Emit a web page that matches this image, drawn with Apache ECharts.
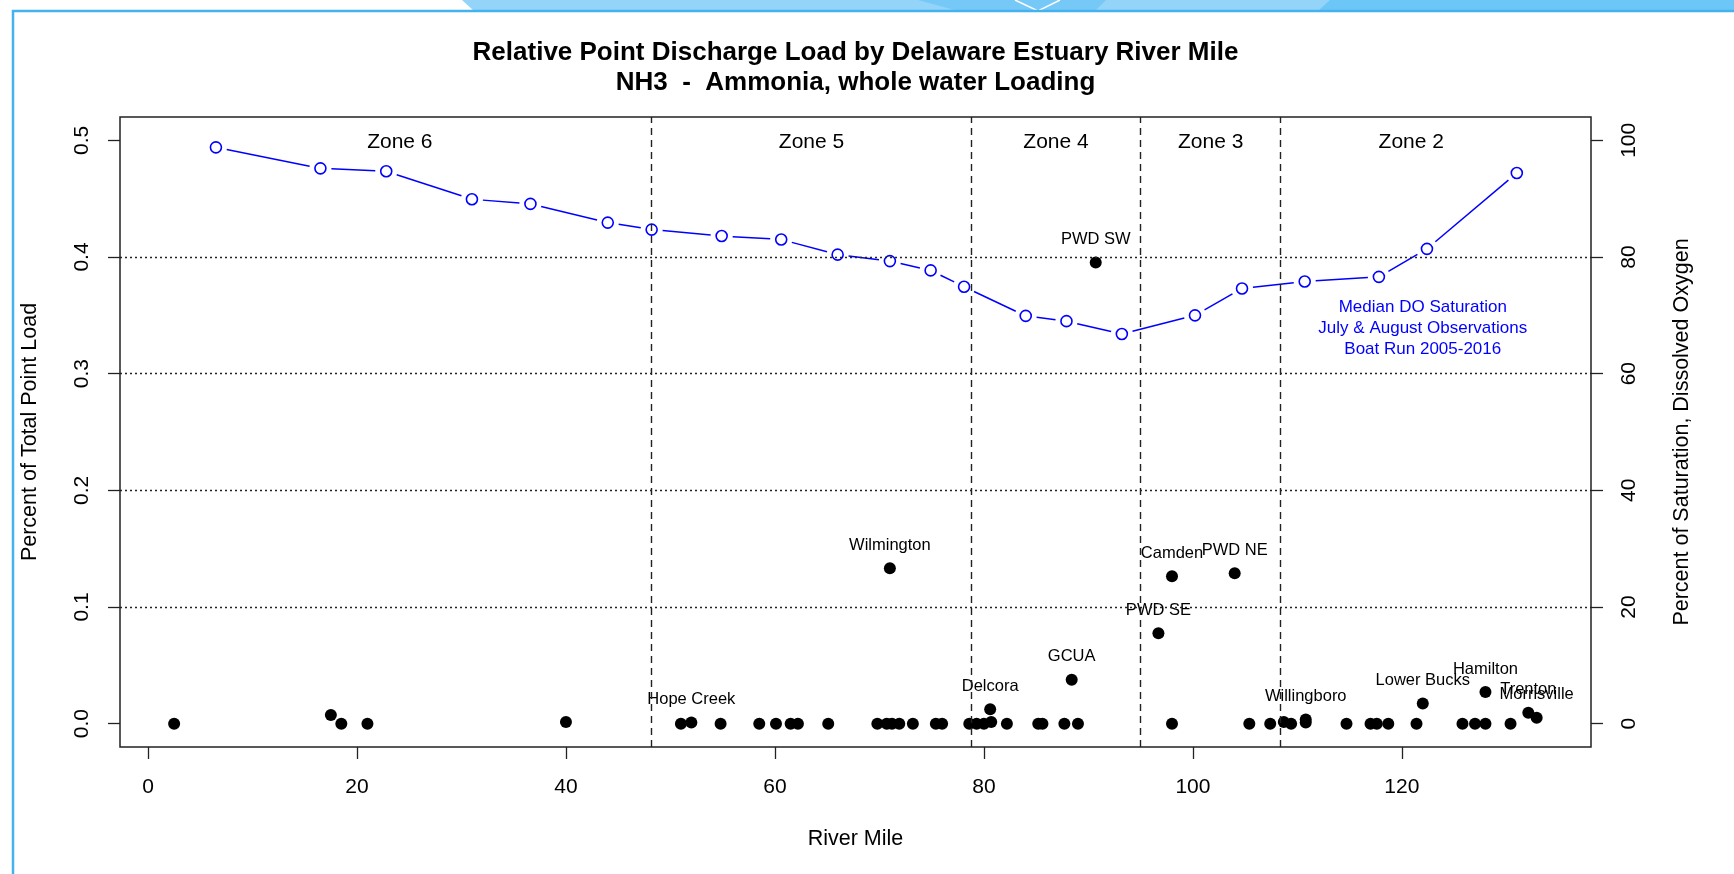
<!DOCTYPE html>
<html><head><meta charset="utf-8">
<script src="https://cdn.jsdelivr.net/npm/echarts@6/dist/echarts.min.js"></script>
<style>html,body{margin:0;padding:0;background:#fff}#chart{width:1734px;height:874px}</style>
</head><body><div id="chart"></div>
<script>
const FONT = '"Liberation Sans", Arial, Helvetica, sans-serif';

// Axis ticks
const xTicks = [0, 20, 40, 60, 80, 100, 120];
const loadTicks = [0, 0.1, 0.2, 0.3, 0.4, 0.5];
const satTicks = [0, 20, 40, 60, 80, 100];
const loadGridLines = [0.1, 0.2, 0.3, 0.4];

// Zones (river mile boundaries)
const zoneEdges = [0, 48.2, 78.8, 95.0, 108.4, 133.4];
const zoneNames = ['Zone 6', 'Zone 5', 'Zone 4', 'Zone 3', 'Zone 2'];

// Point discharges: river mile, relative load, facility name ('' = unlabeled)
const dischargeMiles = [2.5, 17.5, 18.5, 21.0, 40.0, 51.0, 52.0, 54.8, 58.5, 60.1, 61.5, 62.2, 65.1, 69.8, 70.7, 71.0, 71.2, 71.9, 73.2, 75.4, 76.0, 78.6, 79.3, 80.0, 80.6, 80.7, 82.2, 85.2, 85.6, 87.7, 88.4, 89.0, 90.7, 96.7, 98.0, 98.0, 104.0, 105.4, 107.4, 108.7, 109.4, 110.8, 110.8, 114.7, 117.0, 117.6, 118.7, 121.4, 122.0, 125.8, 127.0, 128.0, 128.0, 130.4, 132.1, 132.9];
const dischargeLoads = [0, 0.0074, 0, 0, 0.0014, 0, 0.001, 0, 0, 0, 0, 0, 0, 0, 0, 0.1332, 0, 0, 0, 0, 0, 0, 0, 0, 0.0123, 0.0015, 0, 0, 0, 0, 0.0377, 0, 0.3953, 0.0774, 0.1263, 0, 0.1289, 0, 0, 0.0014, 0, 0.0036, 0.0009, 0, 0, 0, 0, 0, 0.0172, 0, 0, 0, 0.0271, 0, 0.0094, 0.0051];
const dischargeNames = ['', '', '', '', '', '', 'Hope Creek', '', '', '', '', '', '', '', '', 'Wilmington', '', '', '', '', '', '', '', '', 'Delcora', '', '', '', '', '', 'GCUA', '', 'PWD SW', 'PWD SE', 'Camden', '', 'PWD NE', '', '', '', '', 'Willingboro', '', '', '', '', '', '', 'Lower Bucks', '', '', '', 'Hamilton', '', 'Trenton', 'Morrisville'];

// Median DO saturation (boat run)
const doMiles = [6.5, 16.5, 22.8, 31.0, 36.6, 44.0, 48.2, 54.9, 60.6, 66.0, 71.0, 74.9, 78.1, 84.0, 87.9, 93.2, 100.2, 104.7, 110.7, 117.8, 122.4, 131.0];
const doSaturation = [98.8, 95.2, 94.7, 89.9, 89.1, 85.9, 84.7, 83.6, 83.0, 80.4, 79.3, 77.7, 74.9, 69.9, 69.0, 66.8, 70.0, 74.6, 75.8, 76.6, 81.4, 94.4];

const doNoteText = 'Median DO Saturation\nJuly & August Observations\nBoat Run 2005-2016';
const doNoteAt = [122.0, 67.7];

const dischargeData = dischargeMiles.map((m, i) => ({
  value: [m, dischargeLoads[i]],
  name: dischargeNames[i],
  label: { show: dischargeNames[i] !== '' }
}));
const doData = doMiles.map((m, i) => [m, doSaturation[i]]);
const doSegments = doMiles.slice(0, -1).map((m, i) => [m, doSaturation[i], doMiles[i + 1], doSaturation[i + 1]]);
const zoneLabelData = zoneNames.map((n, i) => ({ value: [(zoneEdges[i] + zoneEdges[i + 1]) / 2, 0.5], name: n }));
const zoneLineData = zoneEdges.slice(1, -1).map(v => ({ xAxis: v }));
const hLineData = loadGridLines.map(v => ({ yAxis: v }));

const SEG_GAP = 11; // "type = b" style gap around each point, in pixels

const chart = echarts.init(document.getElementById('chart'), null, { renderer: 'canvas' });
chart.setOption({
  animation: false,
  backgroundColor: '#ffffff',
  textStyle: { fontFamily: FONT },
  title: {
    text: 'Relative Point Discharge Load by Delaware Estuary River Mile\nNH3  -  Ammonia, whole water Loading',
    left: 855.5, top: 37.5, padding: 0, textAlign: 'center',
    textStyle: { fontFamily: FONT, fontWeight: 'bold', fontSize: 26, lineHeight: 30, color: '#000' }
  },
  graphic: [
    { type: 'polygon', silent: true, shape: { points: [[462, 0], [1734, 0], [1734, 11], [474, 11]] }, style: { fill: '#93d4f8' } },
    { type: 'polygon', silent: true, shape: { points: [[918, 0], [1106, 0], [1095, 11], [958, 11]] }, style: { fill: '#76c9f7' } },
    { type: 'polygon', silent: true, shape: { points: [[1330, 0], [1734, 0], [1734, 11], [1318, 11]] }, style: { fill: '#6cc6f7' } },
    { type: 'polyline', silent: true, shape: { points: [[1015, 0], [1038, 11], [1060, 0]] }, style: { stroke: '#ffffff', lineWidth: 1.5, fill: null } },
    { type: 'line', silent: true, shape: { x1: 12, y1: 11, x2: 1734, y2: 11 }, style: { stroke: '#44b2ee', lineWidth: 2.5 } },
    { type: 'line', silent: true, shape: { x1: 13, y1: 10, x2: 13, y2: 874 }, style: { stroke: '#44b2ee', lineWidth: 2.5 } }
  ],
  grid: { left: 120, top: 117, width: 1471, height: 630, show: true, borderColor: '#222', borderWidth: 1.5, containLabel: false },
  xAxis: {
    type: 'value', min: -2.68, max: 138.1,
    axisLine: { show: false, onZero: false },
    axisTick: { show: true, length: 12, customValues: xTicks, lineStyle: { color: '#222', width: 1.3 } },
    axisLabel: { customValues: xTicks, fontSize: 21, color: '#000', margin: 30, fontFamily: FONT },
    splitLine: { show: false },
    name: 'River Mile', nameLocation: 'middle', nameGap: 81,
    nameTextStyle: { fontSize: 21.5, color: '#000', fontFamily: FONT }
  },
  yAxis: [
    {
      type: 'value', min: -0.02, max: 0.52, position: 'left',
      axisLine: { show: false, onZero: false },
      axisTick: { show: true, length: 12, customValues: loadTicks, lineStyle: { color: '#222', width: 1.3 } },
      axisLabel: { customValues: loadTicks, rotate: 90, fontSize: 21, color: '#000', margin: 27, fontFamily: FONT, formatter: v => v.toFixed(1) },
      splitLine: { show: false },
      name: 'Percent of Total Point Load', nameLocation: 'middle', nameGap: 79, nameRotate: 90,
      nameTextStyle: { fontSize: 21.5, color: '#000', fontFamily: FONT }
    },
    {
      type: 'value', min: -4, max: 104, position: 'right',
      axisLine: { show: false, onZero: false },
      axisTick: { show: true, length: 12, customValues: satTicks, lineStyle: { color: '#222', width: 1.3 } },
      axisLabel: { customValues: satTicks, rotate: 90, fontSize: 21, color: '#000', margin: 28, fontFamily: FONT },
      splitLine: { show: false },
      name: 'Percent of Saturation, Dissolved Oxygen', nameLocation: 'middle', nameGap: 80, nameRotate: 90,
      nameTextStyle: { fontSize: 21.5, color: '#000', fontFamily: FONT }
    }
  ],
  series: [
    {
      name: 'guides', type: 'scatter', data: [], silent: true,
      markLine: {
        silent: true, symbol: ['none', 'none'], label: { show: false }, animation: false,
        data: hLineData,
        lineStyle: { color: '#222', type: [2, 3], width: 1.4, opacity: 1 }
      }
    },
    {
      name: 'zones', type: 'scatter', data: [], silent: true,
      markLine: {
        silent: true, symbol: ['none', 'none'], label: { show: false }, animation: false,
        data: zoneLineData,
        lineStyle: { color: '#222', type: [7, 5], width: 1.4, opacity: 1 }
      }
    },
    {
      name: 'zoneLabels', type: 'scatter', yAxisIndex: 0, symbolSize: 0, silent: true,
      itemStyle: { opacity: 1 },
      data: zoneLabelData,
      label: { show: true, position: 'inside', offset: [0, 2], formatter: p => p.name, fontSize: 21, color: '#000', textBorderWidth: 0, opacity: 1, fontFamily: FONT }
    },
    {
      name: 'Median DO Saturation line', type: 'custom', yAxisIndex: 1, silent: true,
      data: doSegments,
      encode: { x: [0, 2], y: [1, 3] },
      renderItem: (params, api) => {
        const a = api.coord([api.value(0), api.value(1)]);
        const b = api.coord([api.value(2), api.value(3)]);
        const dx = b[0] - a[0], dy = b[1] - a[1];
        const len = Math.sqrt(dx * dx + dy * dy);
        if (len <= 2 * SEG_GAP) return null;
        const ux = dx / len, uy = dy / len;
        return {
          type: 'line',
          shape: { x1: a[0] + ux * SEG_GAP, y1: a[1] + uy * SEG_GAP, x2: b[0] - ux * SEG_GAP, y2: b[1] - uy * SEG_GAP },
          style: { stroke: '#0000ff', lineWidth: 1.5 }
        };
      },
      z: 3
    },
    {
      name: 'Median DO Saturation', type: 'scatter', yAxisIndex: 1, data: doData,
      symbol: 'circle', symbolSize: 11,
      itemStyle: { color: 'rgba(0,0,0,0)', borderColor: '#0000ff', borderWidth: 1.6, opacity: 1 },
      z: 3
    },
    {
      name: 'Point discharge', type: 'scatter', yAxisIndex: 0, data: dischargeData,
      symbol: 'circle', symbolSize: 12,
      itemStyle: { color: '#000', opacity: 1 },
      label: { position: 'inside', offset: [0, -23], formatter: p => p.name, fontSize: 16.5, color: '#000', textBorderWidth: 0, opacity: 1, fontFamily: FONT },
      z: 4
    },
    {
      name: 'doNote', type: 'scatter', yAxisIndex: 1, symbolSize: 0, silent: true,
      itemStyle: { opacity: 1 },
      data: [{ value: doNoteAt, name: doNoteText }],
      label: { show: true, position: 'inside', formatter: p => p.name, fontSize: 17, lineHeight: 21, color: '#0000ff', textBorderWidth: 0, opacity: 1, fontFamily: FONT, align: 'center' }
    }
  ]
});
</script></body></html>
